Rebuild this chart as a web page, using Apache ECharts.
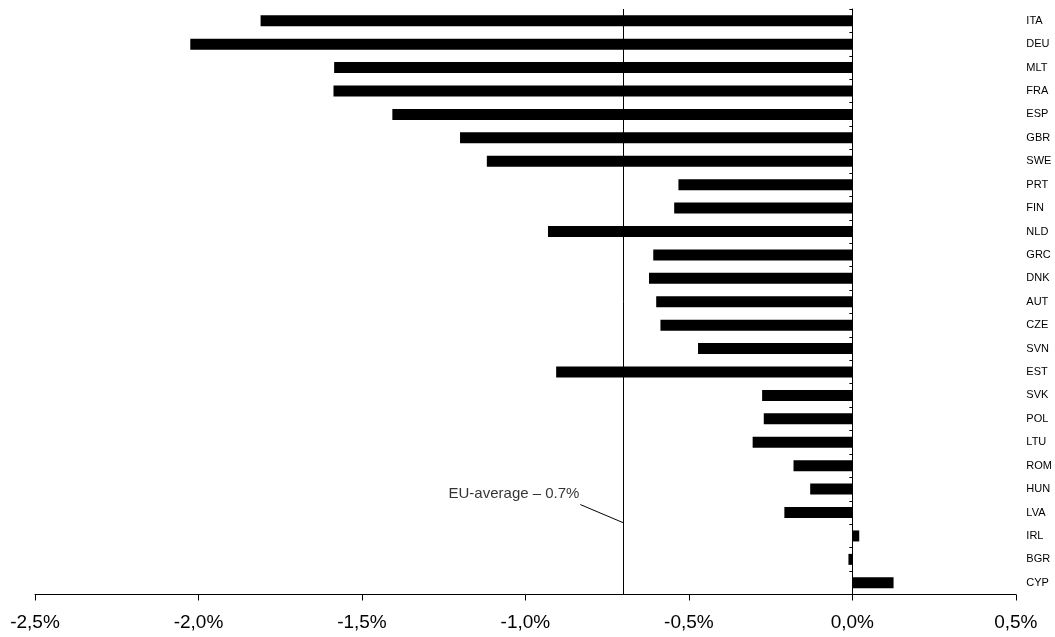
<!DOCTYPE html>
<html>
<head>
<meta charset="utf-8">
<script src="https://cdn.jsdelivr.net/npm/echarts@6/dist/echarts.min.js"></script>
<style>
html,body{margin:0;padding:0;background:#fff;overflow:hidden;}
#chart{width:1055px;height:637px;}
</style>
</head>
<body>
<div id="chart"></div>
<script>
const categories = ['ITA','DEU','MLT','FRA','ESP','GBR','SWE','PRT','FIN','NLD','GRC','DNK','AUT','CZE','SVN','EST','SVK','POL','LTU','ROM','HUN','LVA','IRL','BGR','CYP'];
const values = [-1.81,-2.025,-1.585,-1.587,-1.407,-1.20,-1.118,-0.532,-0.545,-0.931,-0.609,-0.622,-0.600,-0.587,-0.472,-0.906,-0.276,-0.271,-0.305,-0.180,-0.129,-0.208,0.021,-0.012,0.126];
const euAverage = -0.7;
const annotationText = 'EU-average \u2013 0.7%';
const annotationPos = [-1.035, 20.69];
const leaderX = [-0.832, -0.70];
const leaderY = [21.16, 21.94];
const xMin = -2.5, xMax = 0.5, xStep = 0.5;

const FONT = 'Liberation Sans, Arial, sans-serif';
const chart = echarts.init(document.getElementById('chart'), null, {width: 1055, height: 637});
chart.setOption({
  animation: false,
  backgroundColor: '#fff',
  grid: {left: 35, width: 985.8, top: 9, height: 585.5, containLabel: false},
  xAxis: {
    type: 'value', min: xMin, max: xMax, interval: xStep,
    splitLine: {show: false},
    axisLine: {show: true, onZero: false, lineStyle: {color: '#000', width: 1}},
    axisTick: {show: true, length: 6, lineStyle: {color: '#000'}},
    axisLabel: {
      color: '#000', fontSize: 19, fontFamily: FONT, margin: 19,
      formatter: v => v.toFixed(1).replace('.', ',') + '%'
    }
  },
  yAxis: [
    {
      type: 'category', data: categories, inverse: true,
      axisLine: {show: true, onZero: true, lineStyle: {color: '#000', width: 1}},
      axisTick: {show: true, length: 3, lineStyle: {color: '#000'}},
      axisLabel: {show: false},
      splitLine: {show: false}
    },
    {
      type: 'category', data: categories, inverse: true, position: 'right',
      axisLine: {show: false}, axisTick: {show: false},
      axisLabel: {color: '#000', fontSize: 11, fontFamily: FONT, margin: 10.5},
      splitLine: {show: false}
    },
    {
      type: 'value', min: 0, max: categories.length, inverse: true, show: false
    }
  ],
  series: [
    {
      type: 'bar', data: values, yAxisIndex: 0, barWidth: 11,
      itemStyle: {color: '#000'},
      markLine: {
        silent: true, symbol: ['none', 'none'],
        label: {show: false},
        lineStyle: {color: '#000', width: 1, type: 'solid'},
        data: [{xAxis: euAverage}]
      }
    },
    {
      type: 'line', yAxisIndex: 2, silent: true,
      data: leaderX.map((x, i) => [x, leaderY[i]]),
      symbol: 'none', lineStyle: {color: '#000', width: 1}
    },
    {
      type: 'scatter', yAxisIndex: 2, silent: true, symbolSize: 0,
      data: [annotationPos],
      label: {
        show: true, position: 'inside', formatter: annotationText,
        color: '#000', fontSize: 15, fontFamily: FONT
      }
    }
  ]
});
</script>
</body>
</html>
